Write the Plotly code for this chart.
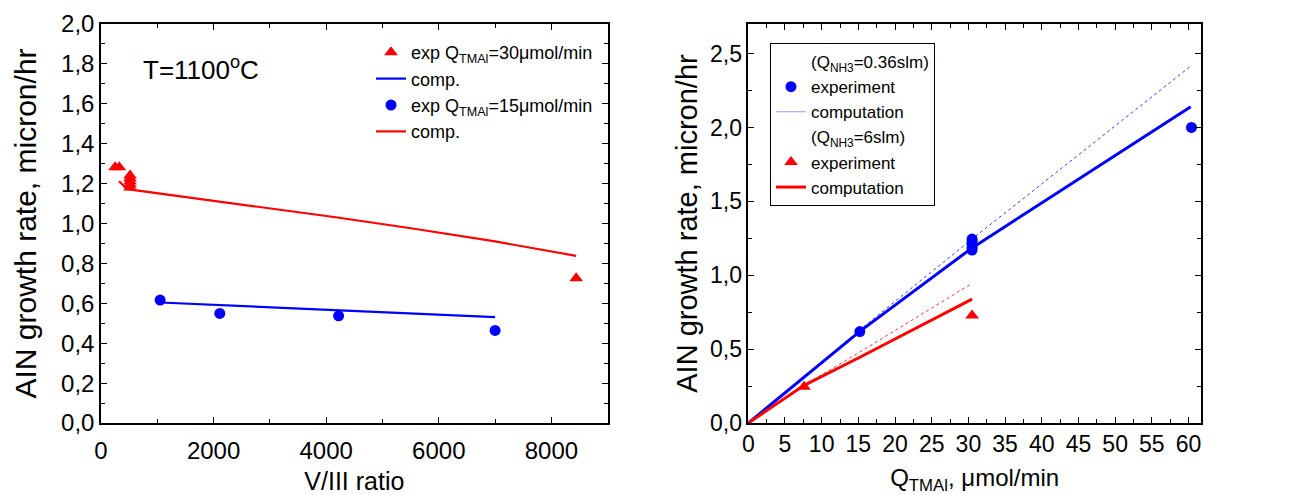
import plotly.graph_objects as go

# ---------------- data: left panel (growth rate vs V/III ratio) ----------------
v3_tri = [250, 325, 516, 516, 516, 516, 516, 8440]
rate_tri = [1.282, 1.282, 1.24, 1.225, 1.21, 1.195, 1.18, 0.725]
v3_circ = [1050, 2110, 4220, 7000]
rate_circ = [0.616, 0.549, 0.537, 0.464]
v3_comp_blue = [1050, 7000]
rate_comp_blue = [0.604, 0.531]
v3_comp_red = [320, 468, 2100, 4200, 5534, 7000, 8440]
rate_comp_red = [1.212, 1.172, 1.11, 1.03, 0.975, 0.91, 0.838]

# ---------------- data: right panel (growth rate vs Q_TMAl) ----------------
q_circ = [15.2, 30.5, 30.5, 30.5, 30.5, 30.5, 60.4]
r_circ = [0.619, 1.17, 1.19, 1.21, 1.23, 1.245, 2.0]
q_tri = [7.6, 30.5]
r_tri = [0.246, 0.727]
q_blue_thick = [0, 15.2, 30.5, 60.3]
r_blue_thick = [0, 0.62, 1.185, 2.14]
q_blue_thin = [0, 15.2, 30.5, 60.3]
r_blue_thin = [0, 0.63, 1.245, 2.415]
q_red_thick = [0, 7.6, 15.2, 30.5]
r_red_thick = [0, 0.255, 0.445, 0.838]
q_red_thin = [0, 7.6, 15.2, 30.5]
r_red_thin = [0, 0.255, 0.48, 0.945]

left_xticks = [0, 2000, 4000, 6000, 8000]
left_yticks = [0.0, 0.2, 0.4, 0.6, 0.8, 1.0, 1.2, 1.4, 1.6, 1.8, 2.0]
right_xticks = list(range(0, 61, 5))
right_yticks = [0.0, 0.5, 1.0, 1.5, 2.0, 2.5]

RED = "#ff0000"
BLUE = "#0000ff"
FONT = "Liberation Sans, Arial, sans-serif"
CLEAR = "rgba(0,0,0,0)"

fig = go.Figure()

# left panel traces
fig.add_trace(go.Scatter(x=v3_tri, y=rate_tri, mode="markers",
                         marker=dict(symbol="triangle-up", size=12, color=RED),
                         name="exp Q<sub>TMAl</sub>=30μmol/min",
                         xaxis="x", yaxis="y", legend="legend"))
fig.add_trace(go.Scatter(x=v3_comp_blue, y=rate_comp_blue, mode="lines",
                         line=dict(color=BLUE, width=2.2), name="comp.",
                         xaxis="x", yaxis="y", legend="legend"))
fig.add_trace(go.Scatter(x=v3_circ, y=rate_circ, mode="markers",
                         marker=dict(symbol="circle", size=11, color=BLUE),
                         name="exp Q<sub>TMAl</sub>=15μmol/min",
                         xaxis="x", yaxis="y", legend="legend"))
fig.add_trace(go.Scatter(x=v3_comp_red, y=rate_comp_red, mode="lines",
                         line=dict(color=RED, width=2.2), name="comp.",
                         xaxis="x", yaxis="y", legend="legend"))

# right panel traces
fig.add_trace(go.Scatter(x=[None], y=[None], mode="markers",
                         marker=dict(color=CLEAR, size=1),
                         name="(Q<sub>NH3</sub>=0.36slm)",
                         xaxis="x2", yaxis="y2", legend="legend2"))
fig.add_trace(go.Scatter(x=q_blue_thin, y=r_blue_thin, mode="lines",
                         line=dict(color=BLUE, width=0.8, dash="dot"),
                         showlegend=False, xaxis="x2", yaxis="y2"))
fig.add_trace(go.Scatter(x=q_red_thin, y=r_red_thin, mode="lines",
                         line=dict(color=RED, width=0.8, dash="dot"),
                         showlegend=False, xaxis="x2", yaxis="y2"))
fig.add_trace(go.Scatter(x=q_blue_thick, y=r_blue_thick, mode="lines",
                         line=dict(color=BLUE, width=3),
                         showlegend=False, xaxis="x2", yaxis="y2"))
fig.add_trace(go.Scatter(x=q_circ, y=r_circ, mode="markers",
                         marker=dict(symbol="circle", size=11, color=BLUE),
                         name="experiment", xaxis="x2", yaxis="y2", legend="legend2"))
fig.add_trace(go.Scatter(x=[None], y=[None], mode="lines",
                         line=dict(color="#9999ff", width=1),
                         name="computation", xaxis="x2", yaxis="y2", legend="legend2"))
fig.add_trace(go.Scatter(x=[None], y=[None], mode="markers",
                         marker=dict(color=CLEAR, size=1),
                         name="(Q<sub>NH3</sub>=6slm)",
                         xaxis="x2", yaxis="y2", legend="legend2"))
fig.add_trace(go.Scatter(x=q_tri, y=r_tri, mode="markers",
                         marker=dict(symbol="triangle-up", size=12, color=RED),
                         name="experiment", xaxis="x2", yaxis="y2", legend="legend2"))
fig.add_trace(go.Scatter(x=q_red_thick, y=r_red_thick, mode="lines",
                         line=dict(color=RED, width=3),
                         name="computation", xaxis="x2", yaxis="y2", legend="legend2"))

W, H = 1315, 495
ML, MR, MT, MB = 101, W - 1201, 24, H - 423
PW = W - ML - MR
PH = H - MT - MB


def dom(a, b):
    return [(a - ML) / PW, (b - ML) / PW]


def axis_common(size):
    return dict(showline=True, linecolor="black", linewidth=1.5, mirror="allticks",
                ticks="inside", ticklen=6, tickwidth=1.3, tickcolor="black",
                showgrid=False, zeroline=False, automargin=False,
                tickfont=dict(family=FONT, size=size, color="black"))


fig.update_layout(
    template="none",
    width=W, height=H,
    margin=dict(l=ML, r=MR, t=MT, b=MB, pad=0),
    paper_bgcolor="white", plot_bgcolor="white",
    font=dict(family=FONT, color="black"),
    xaxis=dict(domain=dom(101, 607.7), range=[0, 9000], anchor="y",
               tickvals=left_xticks, ticktext=[str(v) for v in left_xticks],
               ticklabelstandoff=5,
               minor=dict(dtick=1000, tick0=0, ticks="inside", ticklen=4, tickcolor="black", showgrid=False),
               title=dict(text="V/III ratio", font=dict(family=FONT, size=25), standoff=10),
               **axis_common(24)),
    yaxis=dict(domain=[0, 1], range=[0, 2.0], anchor="x",
               tickvals=left_yticks, ticktext=[f"{v:.1f}".replace(".", ",") for v in left_yticks],
               minor=dict(dtick=0.1, tick0=0, ticks="inside", ticklen=4, tickcolor="black", showgrid=False),
               title=dict(text="AIN growth rate, micron/hr", font=dict(family=FONT, size=30), standoff=16),
               **axis_common(24)),
    xaxis2=dict(domain=dom(748.3, 1201), range=[0, 61.7], anchor="y2",
                tickvals=right_xticks, ticktext=[str(v) for v in right_xticks],
                minor=dict(dtick=2.5, tick0=0, ticks="inside", ticklen=4, tickcolor="black", showgrid=False),
                title=dict(text="Q<sub>TMAl</sub>, μmol/min", font=dict(family=FONT, size=24), standoff=16),
                **axis_common(23)),
    yaxis2=dict(domain=[0, 1], range=[0, 2.7], anchor="x2",
                tickvals=right_yticks, ticktext=[f"{v:.1f}".replace(".", ",") for v in right_yticks],
                minor=dict(dtick=0.25, tick0=0, ticks="inside", ticklen=4, tickcolor="black", showgrid=False),
                title=dict(text="AIN growth rate, micron/hr", font=dict(family=FONT, size=29), standoff=4),
                **axis_common(23)),
    legend=dict(x=(371 - ML) / PW, y=1 - (34 - MT) / PH, xanchor="left", yanchor="top",
                bgcolor=CLEAR, borderwidth=0,
                font=dict(family=FONT, size=18, color="black"), tracegroupgap=0),
    legend2=dict(x=(770 - ML) / PW, y=1 - (43 - MT) / PH, xanchor="left", yanchor="top",
                 bgcolor="white", bordercolor="black", borderwidth=1,
                 font=dict(family=FONT, size=17, color="black"), tracegroupgap=0),
    showlegend=True,
)

fig.add_annotation(text="T=1100<sup>o</sup>C", x=(141 - ML) / PW, y=1 - (68 - MT) / PH,
                   xref="paper", yref="paper", xanchor="left", yanchor="middle",
                   showarrow=False, font=dict(family=FONT, size=26, color="black"))

fig.write_html("out.html")
